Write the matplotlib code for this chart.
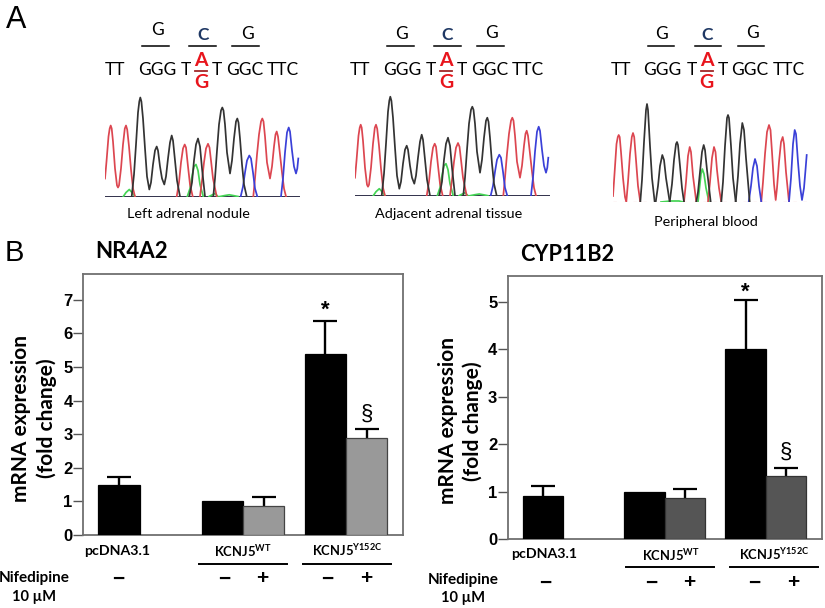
import matplotlib
matplotlib.use('Agg')
import matplotlib.pyplot as plt
from matplotlib.lines import Line2D

plt.rcParams['font.family'] = ['Lato', 'DejaVu Sans']
plt.rcParams['mathtext.fontset'] = 'custom'
plt.rcParams['mathtext.bf'] = 'Lato:bold'
plt.rcParams['mathtext.rm'] = 'Lato'

W, H = 825, 608

# bar data
positions = [0, 2.5, 3.5, 5, 6]
nr4a2_values = [1.5, 1.0, 0.85, 5.4, 2.9]
nr4a2_tops = [1.74, 1.0, 1.14, 6.38, 3.15]
cyp_values = [0.9, 1.0, 0.855, 4.02, 1.335]
cyp_tops = [1.11, 1.0, 1.055, 5.05, 1.5]
nr4a2_ticks = [0, 1, 2, 3, 4, 5, 6, 7]
cyp_ticks = [0, 1, 2, 3, 4, 5]
group_labels = ['pcDNA3.1', r'$\mathbf{KCNJ5^{WT}}$', r'$\mathbf{KCNJ5^{Y152C}}$']
nifedipine_signs = ['\u2212', '\u2212', '+', '\u2212', '+']

# chromatogram traces (x = scan px, y = signal px)
left_red = [
    ([0, 1.5, 3.5, 4.7, 5.7, 6.7, 8, 10, 12, 13, 14, 16, 18, 19.8, 21, 22.2, 24, 26, 28, 30],
     [18, 35, 60, 68, 71, 68, 55, 28, 11, 9, 11, 28, 52, 68, 71, 67, 50, 27, 8, 0]),
    ([71.7, 74, 76, 78, 79.7, 81, 83, 85, 87.7], [0, 14, 34, 48, 52, 49, 30, 12, 0]),
    ([95, 97, 99, 101, 103, 104.5, 106, 108, 111.7], [0, 16, 34, 48, 52.7, 49, 36, 18, 0]),
    ([148.3, 150, 152, 154, 156, 157.3, 158.5, 160, 162, 165, 167, 169, 170.5, 171.7, 173, 175, 177, 179, 181],
     [0, 18, 42, 62, 75, 78, 75, 60, 34, 18, 30, 50, 62, 65, 60, 42, 24, 8, 0]),
]
left_black = [
    ([26.7, 29, 31, 33, 34.3, 35.3, 36.4, 38, 40, 42, 44.3, 46, 48, 50, 51.7, 53, 55, 57, 59.3, 61, 63, 65, 66.7, 68, 70, 72, 75],
     [0, 22, 52, 84, 95, 99, 95, 78, 48, 20, 7, 14, 32, 46, 50, 46, 30, 18, 12, 20, 38, 54, 61, 56, 36, 16, 0]),
    ([84.3, 87, 89, 91, 93, 95, 97, 100], [0, 14, 36, 52, 58, 50, 28, 0]),
    ([108.3, 110, 112, 114, 116, 117.3, 118.5, 120, 122, 125, 127, 129, 131, 132.3, 133.5, 135, 137, 139, 141.7],
     [0, 18, 46, 72, 86, 89, 86, 72, 44, 23, 36, 58, 75, 78, 74, 58, 32, 12, 0]),
]
left_blue = [
    ([135.7, 138, 140, 142, 144.3, 146, 148, 150, 152.3], [0, 10, 24, 36, 41, 38, 24, 8, 0]),
    ([176, 178, 180, 182, 183.7, 185, 187, 189, 191, 192.3, 193.3], [0, 18, 44, 64, 69, 65, 46, 30, 23, 28, 38]),
]
left_green = [
    ([18.3, 21, 24.3, 27, 30], [0, 4, 7, 4, 0]),
    ([82.3, 85, 87, 89, 91, 93, 95, 98.3], [0, 8, 20, 30, 32, 26, 12, 0]),
    ([104, 108, 110, 113], [0, 2, 3, 0]),
    ([115, 120, 124.3, 128, 133], [0, 1, 1.7, 1, 0]),
]
blood_red = [
    ([0, 1.5, 3.5, 4.8, 5.7, 6.7, 8, 10, 12, 13.3, 15, 17, 18.8, 20, 21.2, 23, 25, 27.3],
     [6, 28, 58, 65, 67, 65, 50, 24, 5, 0, 20, 48, 65, 69, 65, 42, 16, 0]),
    ([71, 73, 75, 76.7, 78, 80, 83.3], [0, 20, 46, 55, 50, 26, 0]),
    ([95, 97, 99, 101, 102.5, 104, 106, 108.3], [0, 20, 44, 55, 50, 32, 14, 0]),
    ([148.3, 150, 152, 154, 156, 157.5, 159, 161, 162.7, 164, 166, 168, 169.7, 171, 173, 176],
     [0, 20, 48, 70, 77, 72, 50, 18, 2, 14, 40, 60, 65, 58, 30, 0]),
]
blood_black = [
    ([27.3, 29, 31, 33, 34, 35, 37, 39, 41.7], [0, 22, 60, 92, 98, 92, 56, 24, 0]),
    ([42.7, 45, 47, 49.3, 51, 53, 56.7], [0, 16, 36, 47, 42, 24, 0]),
    ([56.7, 59, 61, 63, 64, 65, 67, 69, 71], [0, 18, 42, 58, 60, 57, 36, 14, 0]),
    ([83.3, 85, 87, 89, 90.7, 92, 94, 97.7], [0, 10, 30, 50, 57, 52, 32, 0]),
    ([108.3, 110, 112, 114, 115, 116, 118, 120, 122.7], [0, 20, 56, 84, 87, 84, 56, 24, 0]),
    ([122.7, 125, 127, 129.3, 131, 133, 136.7], [0, 26, 58, 79, 72, 44, 0]),
]
blood_blue = [
    ([135.7, 138, 140, 142, 144, 146, 148.3], [0, 16, 34, 43, 36, 16, 0]),
    ([176, 178, 180, 181.7, 183, 185, 187, 189, 191, 192.5, 193.7], [0, 24, 58, 72, 68, 40, 16, 2, 14, 32, 47]),
]
blood_green = [
    ([85, 86.5, 88, 89.3, 91, 93, 96], [0, 14, 28, 33, 28, 14, 0]),
    ([48, 58, 66, 70], [0, 1, 1, 0]),
]

fig = plt.figure(figsize=(W / 100, H / 100), dpi=100)
fig.patch.set_facecolor('white')


def ptext(x, y, s, **kw):
    kw.setdefault('ha', 'center')
    kw.setdefault('va', 'center')
    return fig.text(x / W, 1 - y / H, s, **kw)


def pline(x0, x1, y, color='black', lw=1.0):
    fig.add_artist(Line2D([x0 / W, x1 / W], [1 - y / H, 1 - y / H], color=color, lw=lw,
                          transform=fig.transFigure))


def sequence(dx, tops):
    ptext(105 + dx, 70, 'TT', ha='left', fontsize=12.5)
    ptext(138 + dx, 70, 'GGG', ha='left', fontsize=12.5)
    ptext(181 + dx, 70, 'T', ha='left', fontsize=12.5)
    ptext(212 + dx, 70, 'T', ha='left', fontsize=12.5)
    ptext(226 + dx, 70, 'GGC', ha='left', fontsize=12.5)
    ptext(267 + dx, 70, 'TTC', ha='left', fontsize=12.5)
    ptext(201 + dx, 61, 'A', color='#e8141c', fontweight='bold', fontsize=14)
    ptext(201 + dx, 82, 'G', color='#e8141c', fontweight='bold', fontsize=14)
    pline(195 + dx, 207 + dx, 71, color='#a02828', lw=1.3)
    for (xc, yc, col), x0 in zip(tops, [142, 189, 232]):
        ptext(xc + dx, yc, 'C' if col != 'black' else 'G', color=col, fontsize=12.5,
              fontweight='bold' if col != 'black' else 'normal')
        pline(x0 + dx, x0 + 26.5 + dx, 45.7, lw=1.1)


def trace(x0, base, red, black, blue, green, dashed):
    ax = fig.add_axes([x0 / W, 1 - base / H, 196 / W, 105 / H])
    ax.set_xlim(0, 196)
    ax.set_ylim(0, 105)
    ax.axis('off')
    ax.plot([0, 194], [0.3, 0.3], color='#30304a', lw=0.7)
    if dashed:
        ax.plot([0, 194], [0.3, 0.3], color='#e0606a', lw=0.8, ls=(0, (3, 6)))
    for segs, col in [(green, '#45d455'), (red, '#dc4650'), (blue, '#3a40d8'), (black, '#333333')]:
        for xs, ys in segs:
            ax.plot(xs, ys, color=col, lw=1.25, solid_joinstyle='round')


sequence(0, [(157, 30, 'black'), (203, 35, '#1f3864'), (247, 34, 'black')])
sequence(245, [(156, 34, 'black'), (202, 35, '#1f3864'), (247, 33, 'black')])
sequence(505.5, [(156, 34, 'black'), (202, 35, '#1f3864'), (247, 33, 'black')])

trace(105, 196.5, left_red, left_black, left_blue, left_green, False)
trace(355, 195.7, left_red, left_black, left_blue, left_green, False)
trace(613, 202, blood_red, blood_black, blood_blue, blood_green, True)

ptext(188, 214, 'Left adrenal nodule', fontsize=10.4)
ptext(449, 214, 'Adjacent adrenal tissue', fontsize=10.4)
ptext(706, 222, 'Peripheral blood', fontsize=10.4)

ptext(16, 20, 'A', fontsize=22, family='Liberation Sans')
ptext(14, 253, 'B', fontsize=21, family='Liberation Sans')


def panel(box, values, tops, ticks, ymax, light, edge, star, sect):
    x0, x1, y0, y1 = box
    ax = fig.add_axes([x0 / W, 1 - y1 / H, (x1 - x0) / W, (y1 - y0) / H])
    cols = ['black', 'black', light, 'black', light]
    ecols = ['black', 'black', edge, 'black', edge]
    ax.bar(positions, values, width=1.0, color=cols, edgecolor=ecols, linewidth=0.9, zorder=3)
    for p, v, t in zip(positions, values, tops):
        if t > v:
            _, caps, _ = ax.errorbar(p, v, yerr=[[0], [t - v]], color='black', capsize=8.6, capthick=1.6,
                                     elinewidth=1.7, zorder=2)
            caps[0].set_visible(False)
    ax.set_xlim(-0.875, 6.88)
    ax.set_ylim(0, ymax)
    ax.set_xticks([])
    ax.set_yticks(ticks)
    ax.set_yticklabels([str(t) for t in ticks], family='Liberation Sans', fontweight='bold', fontsize=12)
    ax.tick_params(axis='y', length=7, width=1.0, color='#555555', pad=0.5)
    for s in ax.spines.values():
        s.set_color('#707070')
        s.set_linewidth(1.3)
    ax.text(5, star, '*', ha='center', va='center', fontsize=16, fontweight='bold',
            family='Liberation Sans')
    ax.text(6, sect, '\u00a7', ha='center', va='center', fontsize=16, family='Liberation Sans')
    return ax


panel((83, 403, 274, 535), nr4a2_values, nr4a2_tops, nr4a2_ticks, 7.77, '#999999', '#444444', 6.68, 3.6)
panel((507.7, 821.7, 276, 539), cyp_values, cyp_tops, cyp_ticks, 5.55, '#555555', '#333333', 5.2, 1.83)

ptext(95, 252, 'NR4A2', ha='left', fontsize=16, fontweight='bold')
ptext(520, 255, 'CYP11B2', ha='left', fontsize=15.7, fontweight='bold')

for x, y, s in [(21, 418, 'mRNA expression'), (47, 418, '(fold change)'),
                (448, 421, 'mRNA expression'), (473, 421, '(fold change)')]:
    ptext(x, y, s, rotation=90, fontsize=15, fontweight='bold')

# labels under the two bar panels
for x, y, s, fs in zip([117, 243, 347], [551, 551, 550], group_labels, [10.2, 9.4, 9.4]):
    ptext(x, y, s, fontsize=fs, fontweight='bold')
for x, y, s, fs in zip([544, 671, 774], [554, 555, 554], group_labels, [10.2, 9.4, 9.4]):
    ptext(x, y, s, fontsize=fs, fontweight='bold')
pline(199, 287, 564, lw=1.4)
pline(303, 391, 564, lw=1.4)
pline(626, 714, 567, lw=1.4)
pline(730, 818, 567, lw=1.4)
for x, s in zip([118, 224, 262, 327, 366], nifedipine_signs):
    ptext(x, 579, s, fontsize=15, fontweight='bold', family='Liberation Sans')
for x, s in zip([545, 651, 689, 754, 793], nifedipine_signs):
    ptext(x, 583, s, fontsize=15, fontweight='bold', family='Liberation Sans')
ptext(34, 578, 'Nifedipine', fontsize=11, fontweight='bold')
ptext(34, 597, '10 \u00b5M', fontsize=10.5, fontweight='bold')
ptext(463, 580, 'Nifedipine', fontsize=11, fontweight='bold')
ptext(463, 598, '10 \u00b5M', fontsize=10.5, fontweight='bold')

fig.savefig('out.png', dpi=100)
